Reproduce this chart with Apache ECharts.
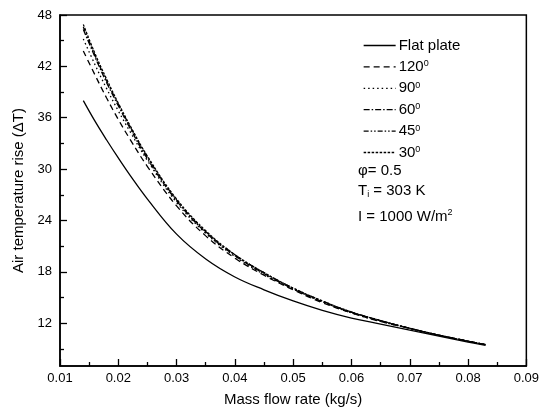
<!DOCTYPE html>
<html>
<head>
<meta charset="utf-8">
<script src="https://cdn.jsdelivr.net/npm/echarts@6/dist/echarts.min.js"></script>
<style>html,body{margin:0;padding:0;background:#fff}#c{width:542px;height:412px}</style>
</head>
<body>
<div id="c"></div>
<script>
var massFlow = [0.014, 0.016, 0.018, 0.02, 0.022, 0.025, 0.03, 0.035, 0.04, 0.045, 0.05, 0.055, 0.06, 0.065, 0.07, 0.075, 0.08, 0.083];
var flatPlate = [38.0, 35.6, 33.4, 31.3, 29.3, 26.5, 22.4, 19.5, 17.4, 15.9, 14.6, 13.5, 12.6, 11.9, 11.2, 10.5, 9.8, 9.4];
var deg120 = [43.8, 41.0, 38.3, 35.8, 33.5, 30.3, 25.7, 22.2, 19.6, 17.6, 15.9, 14.4, 13.2, 12.2, 11.4, 10.6, 9.9, 9.5];
var deg90 = [45.2, 42.2, 39.4, 36.8, 34.4, 31.0, 26.1, 22.5, 19.8, 17.7, 16.0, 14.5, 13.2, 12.2, 11.4, 10.6, 9.9, 9.5];
var deg60 = [46.3, 43.1, 40.1, 37.4, 34.8, 31.2, 26.3, 22.6, 19.9, 17.8, 16.0, 14.5, 13.3, 12.3, 11.4, 10.6, 9.9, 9.5];
var deg45 = [46.6, 43.3, 40.3, 37.6, 35.0, 31.4, 26.4, 22.7, 20.0, 17.9, 16.1, 14.6, 13.3, 12.3, 11.4, 10.6, 9.9, 9.5];
var deg30 = [46.9, 43.5, 40.5, 37.7, 35.1, 31.5, 26.5, 22.8, 20.0, 17.9, 16.1, 14.6, 13.3, 12.3, 11.4, 10.6, 9.9, 9.5];
var yMajorTicks = [12, 18, 24, 30, 36, 42, 48];
var yMinorTicks = [9, 15, 21, 27, 33, 39, 45];
var seriesNames = ['Flat plate', '120', '90', '60', '45', '30'];

var FONT = 'Liberation Sans, Arial, sans-serif';
var chart = echarts.init(document.getElementById('c'), null, {renderer: 'canvas'});

function pairs(ys) { return massFlow.map(function (x, i) { return [x, ys[i]]; }); }
var dashTypes = ['solid', [6, 4], [1.5, 3], [6, 2, 1.5, 2], [5, 2, 1.5, 2, 1.5, 2], [2.5, 1.5]];
var allData = [flatPlate, deg120, deg90, deg60, deg45, deg30];

var series = allData.map(function (d, i) {
  return {
    name: seriesNames[i],
    type: 'line',
    data: pairs(d),
    smooth: 0.4,
    symbol: 'none',
    itemStyle: {color: '#000'},
    lineStyle: {color: '#000', width: 1.3, type: dashTypes[i]},
    z: 10 - i
  };
});

chart.setOption({
  animation: false,
  backgroundColor: '#fff',
  textStyle: {fontFamily: FONT, color: '#000'},
  grid: {left: 60, right: 13, top: 15, bottom: 35, show: true, borderColor: '#000', borderWidth: 1.5, backgroundColor: 'transparent'},
  legend: {
    orient: 'vertical',
    left: 358, top: 33,
    itemWidth: 32, itemHeight: 14, itemGap: 6.4,
    data: seriesNames,
    selectedMode: false,
    itemStyle: {color: 'transparent', borderWidth: 0, opacity: 0},
    lineStyle: {color: '#000', width: 1.3},
    textStyle: {fontFamily: FONT, fontSize: 15, lineHeight: 15, color: '#000', padding: [0, 0, 0, -2],
      rich: {sup: {fontSize: 9, lineHeight: 15, fontFamily: FONT, color: '#000', verticalAlign: 'top', padding: [0, 0, 6, 0]}}},
    formatter: function (n) { return n === 'Flat plate' ? n : n + '{sup|0}'; }
  },
  xAxis: [{
    type: 'value', min: 0.01, max: 0.09, interval: 0.01,
    name: 'Mass flow rate (kg/s)', nameLocation: 'middle', nameGap: 26,
    nameTextStyle: {fontFamily: FONT, fontSize: 15, color: '#000'},
    axisLine: {lineStyle: {color: '#000', width: 1.5}},
    axisTick: {inside: true, length: 7, lineStyle: {color: '#000', width: 1.3}},
    minorTick: {show: true, splitNumber: 2, length: 4, lineStyle: {color: '#000', width: 1.3}},
    axisLabel: {fontFamily: FONT, fontSize: 13, color: '#000', margin: 6,
      formatter: function (v) { return (Math.round(v * 100) / 100).toFixed(2); }},
    splitLine: {show: false}
  }],
  yAxis: [{
    type: 'value', min: 7, max: 48,
    name: 'Air temperature rise (\u0394T)', nameLocation: 'middle', nameGap: 28, nameRotate: 90,
    nameTextStyle: {fontFamily: FONT, fontSize: 15, color: '#000'},
    axisLine: {lineStyle: {color: '#000', width: 1.5}},
    axisTick: {inside: true, length: 7, customValues: yMajorTicks, lineStyle: {color: '#000', width: 1.3}},
    axisLabel: {fontFamily: FONT, fontSize: 13, color: '#000', margin: 8, customValues: yMajorTicks},
    splitLine: {show: false}
  }, {
    type: 'value', min: 7, max: 48, position: 'left',
    axisLine: {show: false},
    axisTick: {inside: true, length: 4, customValues: yMinorTicks, lineStyle: {color: '#000', width: 1.3}},
    axisLabel: {show: false, customValues: yMinorTicks},
    splitLine: {show: false}
  }],
  graphic: [
    {type: 'text', left: 358, top: 163, style: {text: '\u03c6= 0.5', font: '15px ' + FONT, fill: '#000'}},
    {type: 'text', left: 358, top: 183, style: {
      text: 'T{sub|i} = 303 K', font: '15px ' + FONT, fill: '#000',
      rich: {sub: {fontSize: 9, fontFamily: FONT, fill: '#000', verticalAlign: 'bottom', padding: [8, 0, 0, 0]}}}},
    {type: 'text', left: 358, top: 208, style: {
      text: 'I = 1000 W/m{sup|2}', font: '15px ' + FONT, fill: '#000',
      rich: {sup: {fontSize: 9, fontFamily: FONT, fill: '#000', verticalAlign: 'top', padding: [0, 0, 8, 0]}}}}
  ],
  series: series
});
</script>
</body>
</html>
